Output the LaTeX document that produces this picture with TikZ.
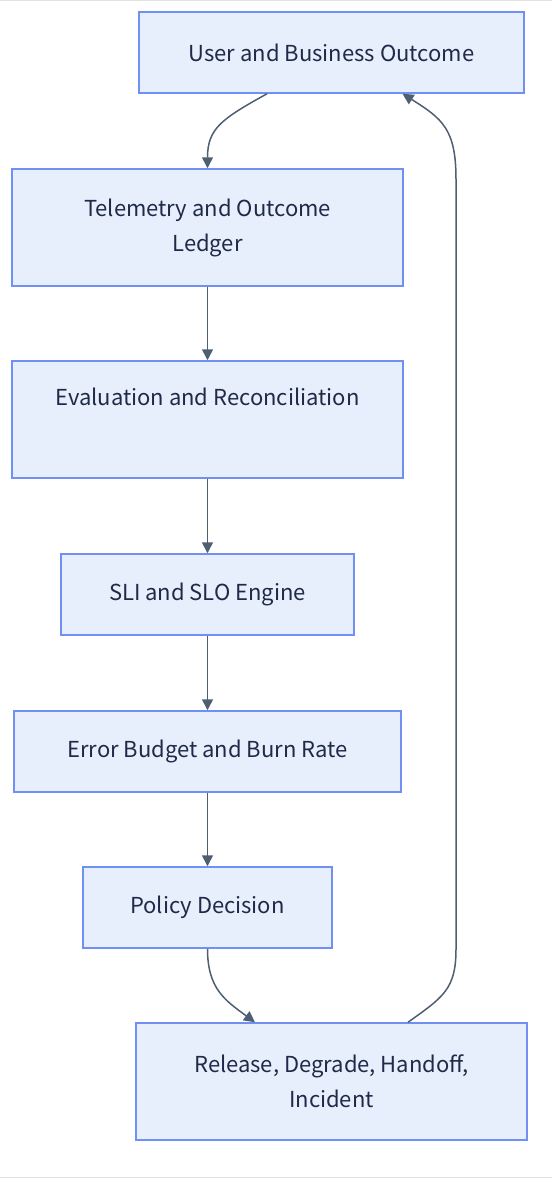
\documentclass[tikz,border=0pt]{standalone}
\usepackage{fontspec}
\setmainfont{Noto Sans CJK KR}
\usepackage{xcolor}
\usepackage{tikz}
\usetikzlibrary{arrows.meta}
\definecolor{boxfill}{HTML}{E8EFFC}
\definecolor{boxline}{HTML}{7090F4}
\definecolor{flowline}{HTML}{4F5F72}
\definecolor{labeltext}{HTML}{1E2A48}
\definecolor{edgerule}{HTML}{E2E2E2}
\tikzstyle{stage} = [rectangle, minimum height=81pt, text centered, align=center, inner sep=0pt, draw=boxline, line width=1.5pt, fill=boxfill, text=labeltext, font=\fontsize{22}{35}\selectfont]
\tikzstyle{stage2} = [stage, minimum height=117pt]
\tikzstyle{arrow} = [line width=1.5pt, draw=flowline, -{Triangle[length=11pt,width=11pt]}]

\begin{document}
\begin{tikzpicture}[x=1pt, y=1pt, node distance=175pt]
\useasboundingbox (0,0) rectangle (552,-1178);
\draw [edgerule, line width=1pt] (0,-0.5) -- (552,-0.5);
\draw [edgerule, line width=1pt] (0,-1177) -- (552,-1177);

\node (user) [stage, minimum width=385pt] at (331.5,-52.5) {User and Business Outcome};
\node (tel) [stage2, minimum width=391pt, below of=user, xshift=-124pt] {Telemetry and Outcome\\Ledger};
\node (eval) [stage2, minimum width=391pt, below of=tel, yshift=-17pt] {Evaluation and Reconciliation\\\strut};
\node (slo) [stage, minimum width=293pt, below of=eval] {SLI and SLO Engine};
\node (budget) [stage, minimum width=387pt, below of=slo, yshift=18pt] {Error Budget and Burn Rate};
\node (policy) [stage, minimum width=249pt, below of=budget, yshift=19pt] {Policy Decision};
\node (act) [stage2, minimum width=391pt, below of=policy, xshift=124pt, yshift=1pt] {Release, Degrade, Handoff,\\Incident};

\draw [arrow] ([xshift=-64.5pt]user.south) .. controls +(-45,-25) and +(0,40) .. (tel.north);
\draw [arrow] (tel) -- (eval);
\draw [arrow] (eval) -- (slo);
\draw [arrow] (slo) -- (budget);
\draw [arrow] (budget) -- (policy);
\draw [arrow] (policy.south) .. controls +(0,-40) and +(-30,22) .. ([xshift=-76.5pt]act.north);

\draw [arrow] ([xshift=76.5pt]act.north) .. controls +(35,25) and +(0,-40) .. ++(48,73) -- ++(0,770) .. controls +(0,50) and +(40,-25) .. ([xshift=71pt]user.south);

\end{tikzpicture}
\end{document}
